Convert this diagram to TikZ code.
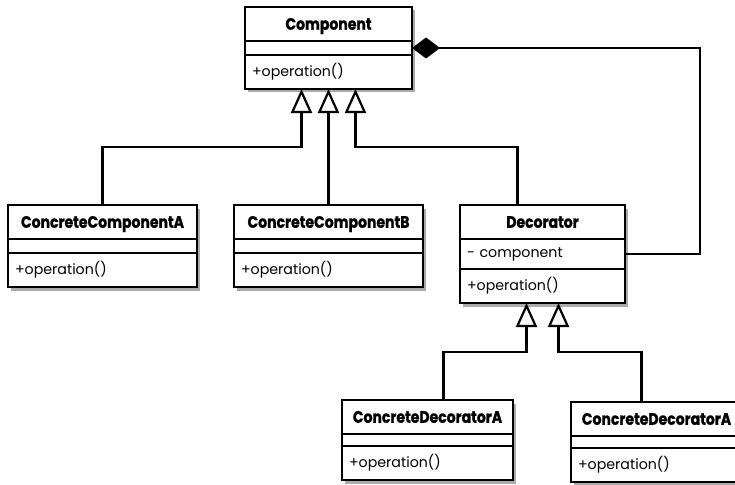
\documentclass[tikz,border=0pt]{standalone}
\usepackage{fontspec}
\setmainfont{Poppins}
\newfontfamily\titlefont{Poppins}[FakeStretch=0.85, BoldFeatures={FakeBold=1.2}]
\usetikzlibrary{arrows.meta,positioning,shadows}

\begin{document}
\begin{tikzpicture}[x=1pt,y=-1pt]
        \tikzset{box/.style = {draw, line width=2.5pt, fill=white, outer sep=0pt, inner xsep=7pt, inner ysep=0pt,
                drop shadow={shadow xshift=2.5pt, shadow yshift=-3.5pt, fill=black!60, opacity=0.55}}}
        \tikzset{title/.style = {box, minimum width=#1, minimum height=34pt, text height=11.5pt, text depth=0pt,
                font=\titlefont\bfseries\fontsize{16.5}{18}\selectfont}}
        \tikzset{empty/.style = {box, minimum width=#1, minimum height=14pt}}
        \tikzset{attr/.style = {box, text width=#1, minimum height=30pt, align=left, font=\fontsize{14.2}{16}\selectfont}}
        \tikzset{op/.style = {box, text width=#1, minimum height=34pt, align=left, font=\fontsize{14.2}{16}\selectfont}}
        \tikzset{gen/.style = {line width=2.2pt, -{Triangle[length=24pt, width=21pt, fill=white]}}}
        \tikzset{agg/.style = {line width=2.2pt, -{Diamond[length=28pt, width=21pt]}}}
        \useasboundingbox (0,0) rectangle (735,484);
        \clip (0,0) rectangle (735,484);
        % classes
        \node[title=167pt, anchor=north west] (comp) at (245,7) {Component};
        \node[empty=167pt, below=0pt of comp] (comp-a) {};
        \node[op=153pt, below=0pt of comp-a] (comp-o) {+operation()};
        \node[title=189pt, anchor=north west] (cca) at (8,205) {ConcreteComponentA};
        \node[empty=189pt, below=0pt of cca] (cca-a) {};
        \node[op=175pt, below=0pt of cca-a] (cca-o) {+operation()};
        \node[title=189pt, anchor=north west] (ccb) at (234,205) {ConcreteComponentB};
        \node[empty=189pt, below=0pt of ccb] (ccb-a) {};
        \node[op=175pt, below=0pt of ccb-a] (ccb-o) {+operation()};
        \node[title=165pt, anchor=north west] (dec) at (460,205) {Decorator};
        \node[attr=151pt, below=0pt of dec] (dec-a) {- component};
        \node[op=151pt, below=0pt of dec-a] (dec-o) {+operation()};
        \node[title=171pt, anchor=north west] (cda) at (342,400) {ConcreteDecoratorA};
        \node[empty=171pt, minimum height=12pt, below=0pt of cda] (cda-a) {};
        \node[op=157pt, below=0pt of cda-a] (cda-o) {+operation()};
        \node[title=171pt, anchor=north west] (cdb) at (571,402) {ConcreteDecoratorA};
        \node[empty=171pt, minimum height=12pt, below=0pt of cdb] (cdb-a) {};
        \node[op=157pt, below=0pt of cdb-a] (cdb-o) {+operation()};
        % edges
        \draw[gen] (cca.north) -- ++(0,-58) -| ([xshift=-27pt]comp-o.south);
        \draw[gen] (ccb.north) -- (ccb.north |- comp-o.south);
        \draw[gen] ([xshift=-25pt]dec.north) -- ++(0,-58) -| ([xshift=27pt]comp-o.south);
        \draw[gen] ([xshift=16pt]cda.north) -- ++(0,-48) -| ([xshift=-16pt]dec-o.south);
        \draw[gen] ([xshift=-15pt]cdb.north) -- ++(0,-50) -| ([xshift=16pt]dec-o.south);
        \draw[agg] (dec-a.east) -- ++(75,0) |- (comp-a.east);
\end{tikzpicture}
\end{document}
